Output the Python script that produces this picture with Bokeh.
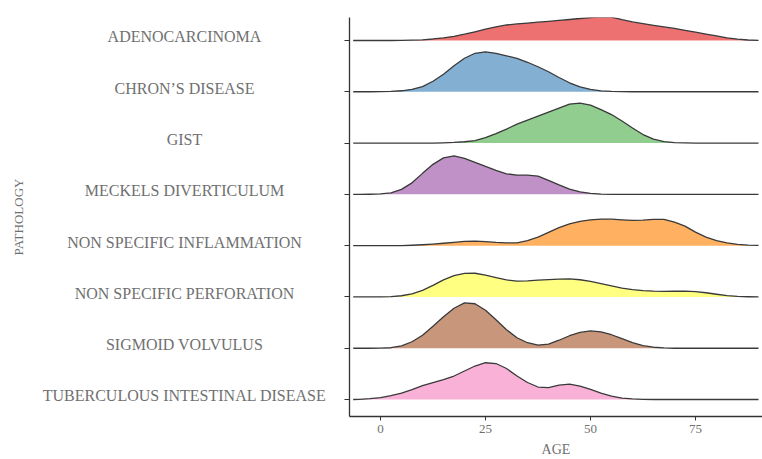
from math import pi
from bokeh.plotting import figure
from bokeh.models import Range1d, FixedTicker
from bokeh.layouts import row
from bokeh.embed import file_html
from bokeh.resources import INLINE
from bokeh.core.properties import value

# ---------------- data ----------------
AGES = [-6.5, -5, -2.5, 0, 2.5, 5, 7.5, 10, 12.5, 15, 17.5, 20, 22.5, 25, 27.5, 30,
        32.5, 35, 37.5, 40, 42.5, 45, 47.5, 50, 52.5, 55, 57.5, 60, 62.5, 65, 67.5,
        70, 72.5, 75, 77.5, 80, 82.5, 85, 87.5, 90]

# order: bottom row first
PATHOLOGIES = ["TUBERCULOUS INTESTINAL DISEASE", "SIGMOID VOLVULUS",
               "NON SPECIFIC PERFORATION", "NON SPECIFIC INFLAMMATION",
               "MECKELS DIVERTICULUM", "GIST", "CHRON\u2019S DISEASE", "ADENOCARCINOMA"]

adenocarcinoma = [0, 0, 0, 0, 0, 0.1, 0.3, 0.7, 1.5, 2.7, 4.2, 6.3, 8.7, 11.3, 13.7, 15.5,
                  16.6, 17.4, 18.3, 19.2, 20.1, 21.0, 22.0, 23.0, 23.7, 23.4, 20.8, 18.5,
                  16.8, 15.2, 13.6, 12.0, 10.2, 8.3, 6.4, 4.5, 2.7, 1.3, 0.5, 0.1]
chrons = [0, 0, 0, 0.1, 0.4, 1.0, 2.4, 5.2, 10.5, 17.5, 26, 33.5, 38.5, 40.0, 38.5, 36.0,
          33.3, 29.5, 25, 20, 14.3, 9, 5, 2.3, 0.9, 0.3, 0.1, 0, 0, 0, 0, 0, 0, 0, 0, 0,
          0, 0, 0, 0]
gist = [0, 0, 0, 0, 0, 0, 0, 0, 0, 0.2, 0.6, 1.3, 2.5, 5.5, 9.5, 14, 19, 23, 27, 31, 35,
        39, 40, 38, 33.5, 28.5, 22, 15, 8.5, 4, 1.5, 0.4, 0.1, 0, 0, 0, 0, 0, 0, 0]
meckels = [0, 0, 0.1, 0.4, 1.4, 5, 11.5, 21, 30, 36.5, 38.5, 36, 32, 28, 24, 20.5, 19.3,
           19.2, 18.3, 14, 9.5, 5.3, 2.5, 1, 0.3, 0, 0, 0, 0, 0, 0, 0, 0, 0, 0, 0, 0, 0,
           0, 0]
ns_inflammation = [0, 0, 0, 0, 0, 0.1, 0.4, 0.9, 1.6, 2.4, 3.3, 4.2, 4.6, 4.0, 3.2, 2.7,
                   2.8, 5.0, 8.5, 13.3, 18.0, 21.8, 24.3, 25.8, 26.6, 26.5, 25.8, 25.3,
                   25.5, 26.2, 26.3, 23.5, 19.5, 13.5, 8.5, 5.0, 2.8, 1.3, 0.5, 0.2]
ns_perforation = [0, 0, 0, 0.1, 0.4, 1.2, 3, 6.5, 11.5, 17, 21.3, 23.5, 23.7, 21.8, 19.3,
                  17.0, 15.8, 16.0, 16.8, 17.4, 17.9, 18.0, 17.2, 15.5, 13.3, 11.0, 8.8,
                  7.3, 6.4, 5.8, 5.6, 5.7, 5.8, 5.4, 4.2, 2.7, 1.4, 0.6, 0.2, 0]
sigmoid = [0, 0, 0, 0.1, 0.5, 2.3, 6.5, 13, 22, 31.5, 40, 45.3, 44.5, 38, 28.5, 18.5,
           10.5, 5.5, 3.2, 4.2, 8, 12.5, 15.8, 17.3, 16.3, 13.5, 9.5, 5.5, 2.5, 1.0, 0.3,
           0, 0, 0, 0, 0, 0, 0, 0, 0]
tuberculous = [0, 0.2, 0.8, 2, 3.8, 6.5, 10, 13.8, 17, 20, 23.5, 28.5, 33.5, 36.8, 36, 31,
               23.5, 17, 12.5, 12, 14.3, 15.3, 13.5, 10.2, 6.3, 3.3, 1.5, 0.6, 0.2, 0, 0,
               0, 0, 0, 0, 0, 0, 0, 0, 0]

DENSITIES = [tuberculous, sigmoid, ns_perforation, ns_inflammation, meckels, gist,
             chrons, adenocarcinoma]
COLORS = ["#F781BF", "#A65628", "#FFFF33", "#FF7F00", "#984EA3", "#4DAF4A",
          "#377EB8", "#E41A1C"]
X_TICKS = [0, 25, 50, 75]

# ---------------- style ----------------
SCALE = 1 / 51.3
FONT = value("Liberation Serif")
TXT = "#707070"
AX = "#333333"
W, H = 762, 459
LEFT_W = 338
TOP, BOTTOM = 17, 43

yr = Range1d(-0.331, 7.448)

p = figure(width=W - LEFT_W, height=H, x_range=Range1d(-7.38, 90.95), y_range=yr,
           output_backend="svg", toolbar_location=None,
           min_border_left=11, min_border_right=0, min_border_top=TOP,
           min_border_bottom=BOTTOM)
p.outline_line_color = None
p.xgrid.visible = False
p.ygrid.visible = False

for i in reversed(range(len(PATHOLOGIES))):
    top = [i + h * SCALE for h in DENSITIES[i]]
    xs = AGES + [AGES[-1], AGES[0]]
    ys = top + [i, i]
    p.patch(xs, ys, fill_color=COLORS[i], fill_alpha=0.62, line_color=None)
    p.line(AGES, top, line_color="#3a3a3a", line_width=1.3, line_join="round")

# y axis: ticks only
p.yaxis.ticker = FixedTicker(ticks=list(range(len(PATHOLOGIES))))
p.yaxis.major_label_text_color = None
p.yaxis.major_label_text_font_size = "8px"
p.yaxis.major_label_standoff = 0
p.yaxis.major_tick_out = 5
p.yaxis.major_tick_in = 0
p.yaxis.minor_tick_line_color = None
p.yaxis.axis_line_color = AX
p.yaxis.axis_line_width = 1.3
p.yaxis.major_tick_line_color = AX

# x axis
ax = p.xaxis[0]
ax.ticker = FixedTicker(ticks=X_TICKS)
ax.major_tick_out = 4
ax.major_tick_in = 0
ax.minor_tick_line_color = None
ax.major_label_standoff = 4
ax.major_label_text_font = "Liberation Serif"
ax.major_label_text_font_size = "13px"
ax.major_label_text_color = TXT
ax.axis_label = "AGE"
ax.axis_label_standoff = 6
ax.axis_label_text_font = "Liberation Serif"
ax.axis_label_text_font_size = "14px"
ax.axis_label_text_font_style = "normal"
ax.axis_label_text_color = TXT
ax.axis_line_color = AX
ax.axis_line_width = 1.3
ax.major_tick_line_color = AX

# left panel with category labels
q = figure(width=LEFT_W, height=H, x_range=Range1d(0, LEFT_W), y_range=yr,
           output_backend="svg", toolbar_location=None, y_axis_location=None,
           x_axis_location=None,
           min_border_left=0, min_border_right=0, min_border_top=TOP,
           min_border_bottom=BOTTOM)
q.outline_line_color = None
q.xgrid.visible = False
q.ygrid.visible = False

q.text(x=[184] * len(PATHOLOGIES), y=[i + 0.07 for i in range(len(PATHOLOGIES))],
       text=PATHOLOGIES, text_align="center", text_baseline="middle",
       text_font=FONT, text_font_size="16px", text_color=TXT)
q.text(x=[18], y=[(yr.start + yr.end) / 2], text=["PATHOLOGY"], angle=pi / 2,
       text_align="center", text_baseline="middle", text_font=FONT,
       text_font_size="13px", text_color=TXT)

layout = row(q, p)
open("out.html", "w").write(file_html(layout, INLINE))
